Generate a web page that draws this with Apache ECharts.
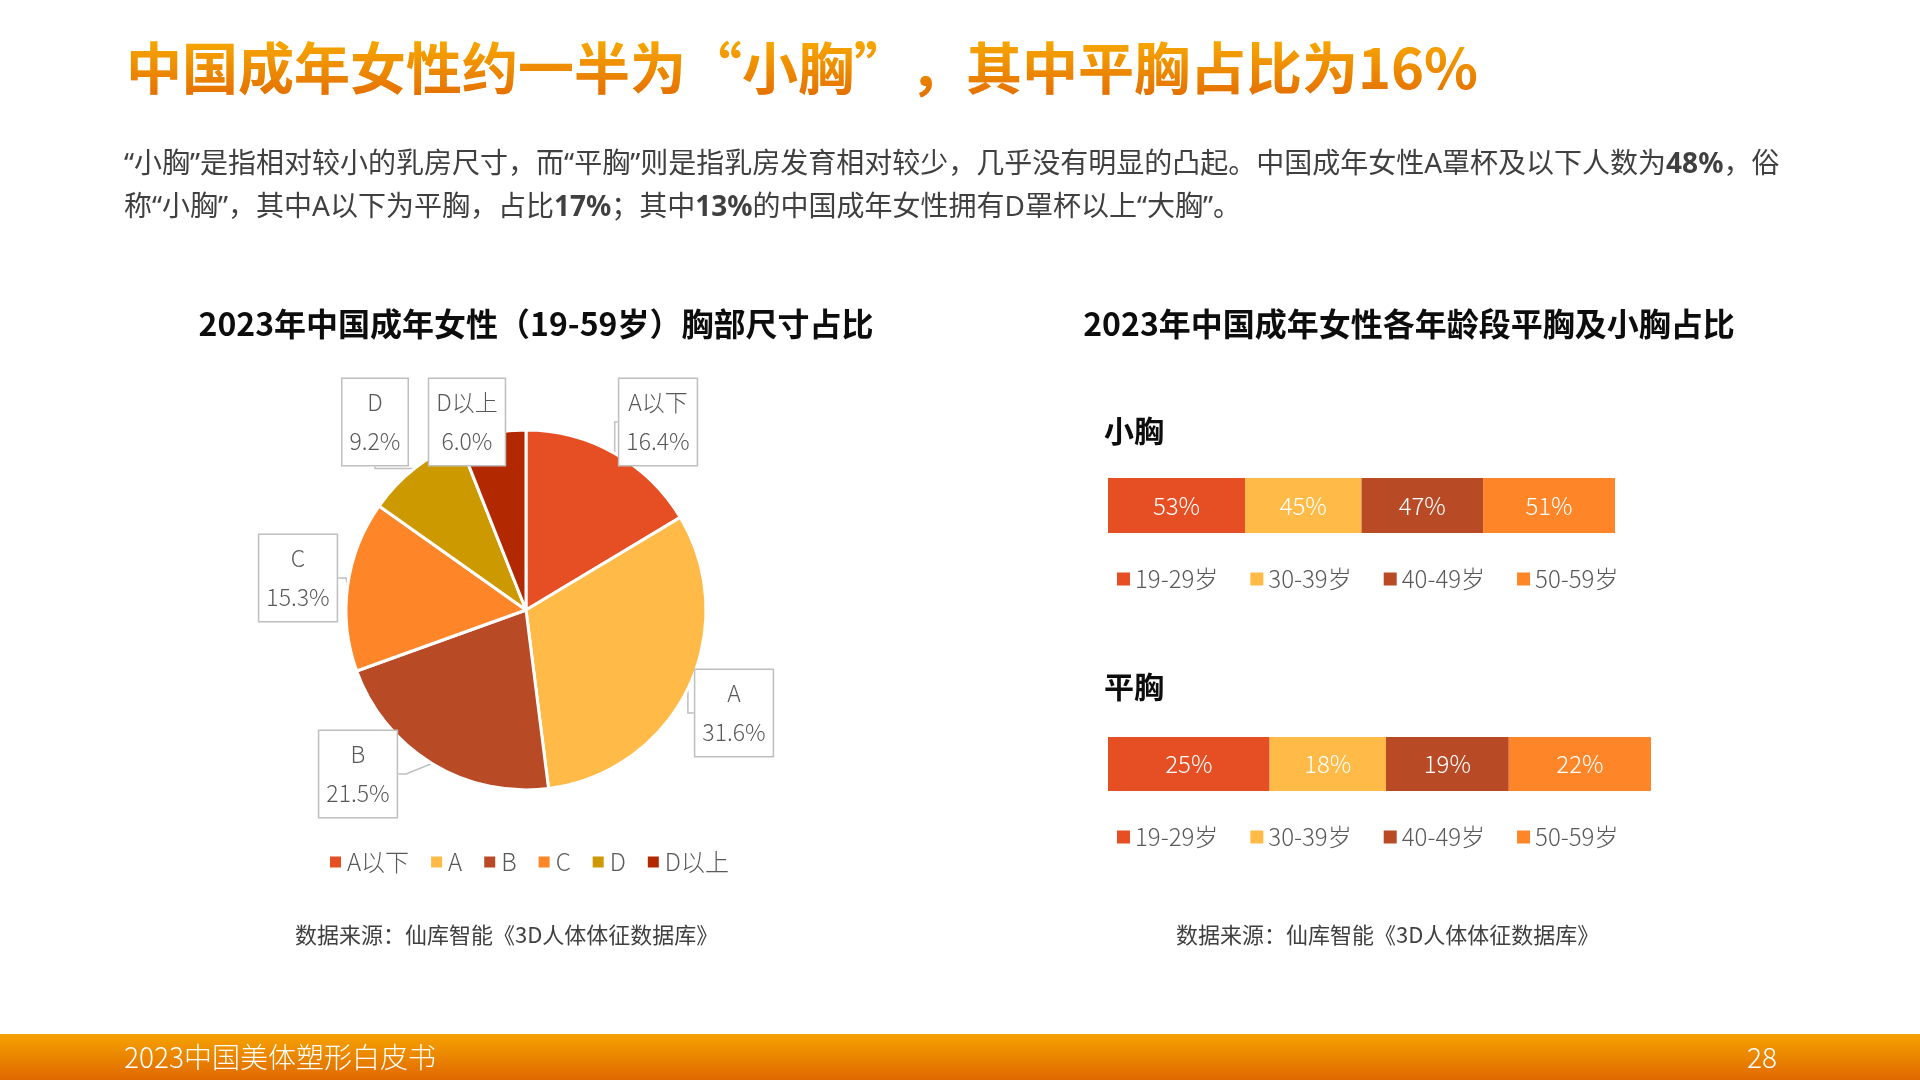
<!DOCTYPE html>
<html><head><meta charset="utf-8">
<script src="https://cdn.jsdelivr.net/npm/echarts@6/dist/echarts.min.js"></script>
<style>html,body{margin:0;padding:0;background:#fff}#c{width:1920px;height:1080px}</style>
</head><body><div id="c"></div>
<script>
// ---- data ----
const pieNames = ['A以下', 'A', 'B', 'C', 'D', 'D以上'];
const pieValues = [16.4, 31.6, 21.5, 15.3, 9.2, 6.0];
const ageGroups = ['19-29岁', '30-39岁', '40-49岁', '50-59岁'];
const smallValues = [53, 45, 47, 51];   // 小胸
const flatValues = [25, 18, 19, 22];    // 平胸

// ---- styles ----
const FONT = '"Noto Sans CJK SC", "Noto Sans", sans-serif';
const FONT_LATIN_FIRST = '"Noto Sans", "Noto Sans CJK SC", sans-serif';
const pieColors = ['#E64F24', '#FFBA47', '#B84A26', '#FF8529', '#CC9900', '#B22800'];
const barColors = ['#E64F24', '#FFBA47', '#B84A26', '#FF8529'];
const pieLabelPos = [[658, 422], [734, 713], [358, 774], [298, 578], [375, 422], [467, 422]];
const TITLE = '中国成年女性约一半为“小胸”，其中平胸占比为16%';

const sum = a => a.reduce((s, v) => s + v, 0);

const chart = echarts.init(document.getElementById('c'), null, {renderer: 'canvas'});

function barSeries(values, idx, stack) {
  return ageGroups.map((g, i) => ({
    type: 'bar', name: g, stack: stack, xAxisIndex: idx, yAxisIndex: idx,
    barWidth: '100%',
    itemStyle: {color: barColors[i]},
    label: {show: true, position: 'inside', color: '#fff', fontSize: 24, fontWeight: 300, fontFamily: FONT,
      formatter: p => p.value + '%'},
    data: [values[i]]
  }));
}

const legendCommon = {
  icon: 'rect', itemWidth: 13, itemHeight: 13, itemGap: 32,
  textStyle: {fontSize: 24, color: '#595959', fontFamily: FONT, fontWeight: 300},
  selectedMode: false
};

const option = {
  animation: false,
  backgroundColor: '#fff',
  color: pieColors,
  graphic: [
    {type: 'text', left: 124, top: 144, style: {
      text: '“小胸”是指相对较小的乳房尺寸，而“平胸”则是指乳房发育相对较少，几乎没有明显的凸起。中国成年女性A罩杯及以下人数为{b|48%}，俗\n称“小胸”，其中A以下为平胸，占比{b|17%}；其中{b|13%}的中国成年女性拥有D罩杯以上“大胸”。',
      font: '28px ' + FONT_LATIN_FIRST, fill: '#404040', lineHeight: 43,
      rich: {b: {fontWeight: 'bold', fontSize: 28, fontFamily: FONT_LATIN_FIRST, fill: '#404040', lineHeight: 43}}
    }},
    {type: 'text', x: 536, y: 324, style: {text: '2023年中国成年女性（19-59岁）胸部尺寸占比', font: 'bold 32px ' + FONT, fill: '#0D0D0D', textAlign: 'center', textVerticalAlign: 'middle'}},
    {type: 'text', x: 1409, y: 324, style: {text: '2023年中国成年女性各年龄段平胸及小胸占比', font: 'bold 32px ' + FONT, fill: '#0D0D0D', textAlign: 'center', textVerticalAlign: 'middle'}},
    {type: 'text', x: 1104, y: 431, style: {text: '小胸', font: 'bold 30px ' + FONT, fill: '#0D0D0D', textVerticalAlign: 'middle'}},
    {type: 'text', x: 1104, y: 687, style: {text: '平胸', font: 'bold 30px ' + FONT, fill: '#0D0D0D', textVerticalAlign: 'middle'}},
    {type: 'text', x: 295, y: 935, style: {text: '数据来源：仙库智能《3D人体体征数据库》', font: '22px ' + FONT, fill: '#404040', textVerticalAlign: 'middle'}},
    {type: 'text', x: 1176, y: 935, style: {text: '数据来源：仙库智能《3D人体体征数据库》', font: '22px ' + FONT, fill: '#404040', textVerticalAlign: 'middle'}},
    {type: 'rect', shape: {x: 0, y: 1034, width: 1920, height: 46}, style: {
      fill: new echarts.graphic.LinearGradient(0, 0, 0, 1, [{offset: 0, color: '#F5A200'}, {offset: 1, color: '#E06800'}])
    }},
    {type: 'text', x: 124, y: 1057, style: {text: '2023中国美体塑形白皮书', font: '300 28px ' + FONT, fill: '#fff', textVerticalAlign: 'middle'}},
    {type: 'text', x: 1777, y: 1057, style: {text: '28', font: '300 28px ' + FONT, fill: '#fff', textAlign: 'right', textVerticalAlign: 'middle'}}
  ],
  legend: [
    Object.assign({}, legendCommon, {data: pieNames, left: 323, top: 845, itemGap: 20}),
    Object.assign({}, legendCommon, {data: ageGroups, left: 1112, top: 562}),
    Object.assign({}, legendCommon, {data: ageGroups, left: 1112, top: 820})
  ],
  grid: [
    {left: 1108, top: 478, width: 507, height: 55},
    {left: 1108, top: 737, width: 543, height: 54}
  ],
  xAxis: [
    {gridIndex: 0, type: 'value', min: 0, max: sum(smallValues), show: false},
    {gridIndex: 1, type: 'value', min: 0, max: sum(flatValues), show: false}
  ],
  yAxis: [
    {gridIndex: 0, type: 'category', data: ['小胸'], show: false},
    {gridIndex: 1, type: 'category', data: ['平胸'], show: false}
  ],
  series: [
    {
      type: 'pie', name: '胸部尺寸', center: [526, 610], radius: 180,
      startAngle: 90, clockwise: true,
      itemStyle: {borderColor: '#fff', borderWidth: 3},
      label: {
        show: true, position: 'outside', fontSize: 23, fontWeight: 300, fontFamily: FONT, color: '#595959',
        lineHeight: 39, align: 'center',
        backgroundColor: '#fff', borderColor: '#BFBFBF', borderWidth: 1.5, padding: [4, 7],
        formatter: p => p.name + '\n' + p.value.toFixed(1) + '%'
      },
      labelLine: {show: true, length: 8, length2: 8, lineStyle: {color: '#BFBFBF', width: 1.5}},
      labelLayout: p => ({x: pieLabelPos[p.dataIndex][0], y: pieLabelPos[p.dataIndex][1], align: 'center', verticalAlign: 'middle'}),
      emphasis: {disabled: true},
      data: pieNames.map((n, i) => ({name: n, value: pieValues[i], itemStyle: {color: pieColors[i]}}))
    }
  ].concat(barSeries(smallValues, 0, 'small'), barSeries(flatValues, 1, 'flat'))
};
chart.setOption(option);

// Title with vertical orange gradient: zrender text cannot take a gradient fill,
// so draw it in thin horizontal bands, each clipped and coloured along the gradient.
(function () {
  const zr = chart.getZr();
  const top = 38, bottom = 100, bands = 31;
  const h = (bottom - top) / bands;
  for (let i = 0; i < bands; i++) {
    const c = echarts.color.lerp((i + 0.5) / bands, ['#F8AA00', '#E36C00']);
    const t = new echarts.graphic.Text({
      silent: true, z: 100,
      style: {text: TITLE, x: 126, y: 68, font: 'bold 56px ' + FONT, fill: c, verticalAlign: 'middle', align: 'left'}
    });
    t.setClipPath(new echarts.graphic.Rect({shape: {x: 0, y: top + i * h, width: 1920, height: h + 0.6}}));
    zr.add(t);
  }
})();
</script></body></html>
